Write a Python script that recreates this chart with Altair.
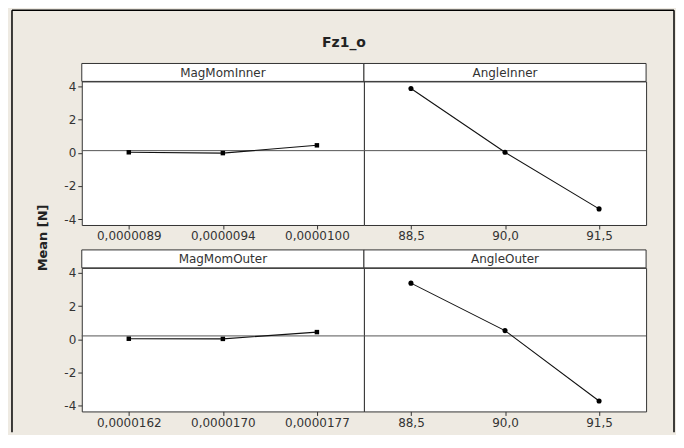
import altair as alt
import pandas as pd

# ---- data ----
title_text = "Fz1_o"
y_label = "Mean [N]"

factor_names = ["MagMomInner", "AngleInner", "MagMomOuter", "AngleOuter"]

mag_in_levels = ["0,0000089", "0,0000094", "0,0000100"]
mag_in_means = [0.03, -0.02, 0.45]

ang_in_levels = ["88,5", "90,0", "91,5"]
ang_in_means = [3.87, 0.03, -3.38]

mag_out_levels = ["0,0000162", "0,0000170", "0,0000177"]
mag_out_means = [0.03, 0.02, 0.43]

ang_out_levels = ["88,5", "90,0", "91,5"]
ang_out_means = [3.38, 0.52, -3.72]

grand_means = [0.13, 0.2]   # top row, bottom row reference lines
y_ticks = [-4, -2, 0, 2, 4]

# ---- styling ----
W, H = 283, 144
STRIP = 18
FONT = "DejaVu Sans"
BEIGE = "#EEEAE2"
DARK = "#333333"
YDOM = [-4.35, 4.3]


def panel(name, levels, means, gm, shape, show_y, first=False):
    df = pd.DataFrame({"level": levels, "mean": means})
    yscale = alt.Scale(domain=YDOM, nice=False, zero=False)
    x = alt.X("level:O", sort=levels,
              scale=alt.Scale(type="point", padding=0.5),
              axis=alt.Axis(title=None, labelAngle=0))
    if show_y:
        yaxis = alt.Axis(title=None, values=y_ticks,
                         labelExpr="replace(datum.label, '\u2212', '-')")
    else:
        yaxis = None
    y = alt.Y("mean:Q", scale=yscale, axis=yaxis)

    layers = []
    if first:
        deco = pd.DataFrame({"d": [0]})
        layers.append(alt.Chart(deco).mark_rule(color="black", strokeWidth=1.5).encode(
            x=alt.value(-70), x2=alt.value(594), y=alt.value(-71.5)))
        layers.append(alt.Chart(deco).mark_rule(color="black", strokeWidth=1.5).encode(
            x=alt.value(-70), y=alt.value(-71.5), y2=alt.value(352)))
        layers.append(alt.Chart(deco).mark_rule(color="black", strokeWidth=1.5).encode(
            x=alt.value(594), y=alt.value(-71.5), y2=alt.value(352)))
        layers.append(alt.Chart(pd.DataFrame({"t": [title_text]})).mark_text(
            font=FONT, fontSize=14, fontWeight="bold", color="#222", baseline="middle",
            align="center").encode(x=alt.value(263), y=alt.value(-39), text="t:N"))
        layers.append(alt.Chart(pd.DataFrame({"t": [y_label]})).mark_text(
            font=FONT, fontSize=13, fontWeight="bold", color="#222", baseline="middle",
            align="center", angle=270).encode(x=alt.value(-39), y=alt.value(157), text="t:N"))

    sdf = pd.DataFrame({"f": [name]})
    layers.append(alt.Chart(sdf).mark_rect(fill="white", stroke=DARK, strokeWidth=1).encode(
        x=alt.value(0), x2=alt.value(W), y=alt.value(-STRIP), y2=alt.value(0)))
    layers.append(alt.Chart(sdf).mark_text(font=FONT, fontSize=12, color=DARK,
                                           baseline="middle", align="center").encode(
        x=alt.value(W / 2), y=alt.value(-STRIP / 2 + 0.5), text="f:N"))

    gdf = pd.DataFrame({"mean": [gm]})
    layers.append(alt.Chart(gdf).mark_rule(color="#555555", strokeWidth=1).encode(y=y))

    base = alt.Chart(df)
    layers.append(base.mark_line(color="#111111", strokeWidth=1.1).encode(x=x, y=y))
    layers.append(base.mark_point(filled=True, shape=shape, size=26 if shape == "circle" else 20,
                                  color="#000000", opacity=1).encode(x=x, y=y))

    return alt.layer(*layers).properties(width=W, height=H)


tl = panel(factor_names[0], mag_in_levels, mag_in_means, grand_means[0], "square", True, first=True)
tr = panel(factor_names[1], ang_in_levels, ang_in_means, grand_means[0], "circle", False)
bl = panel(factor_names[2], mag_out_levels, mag_out_means, grand_means[1], "square", True)
br = panel(factor_names[3], ang_out_levels, ang_out_means, grand_means[1], "circle", False)

chart = alt.concat(tl, tr, bl, br, columns=2, spacing={"row": 43, "column": 0},
                   bounds="flush").properties(
    background=BEIGE,
    padding={"left": 2, "top": 0, "right": 0, "bottom": 0},
).configure_view(
    stroke=DARK, strokeWidth=1, fill="white"
).configure_axis(
    labelFont=FONT, labelFontSize=12, labelColor=DARK,
    tickColor=DARK, tickSize=4, domain=False, grid=False,
    labelPadding=2,
)

chart.save("out.html", embed_options={"renderer": "svg", "actions": False})
